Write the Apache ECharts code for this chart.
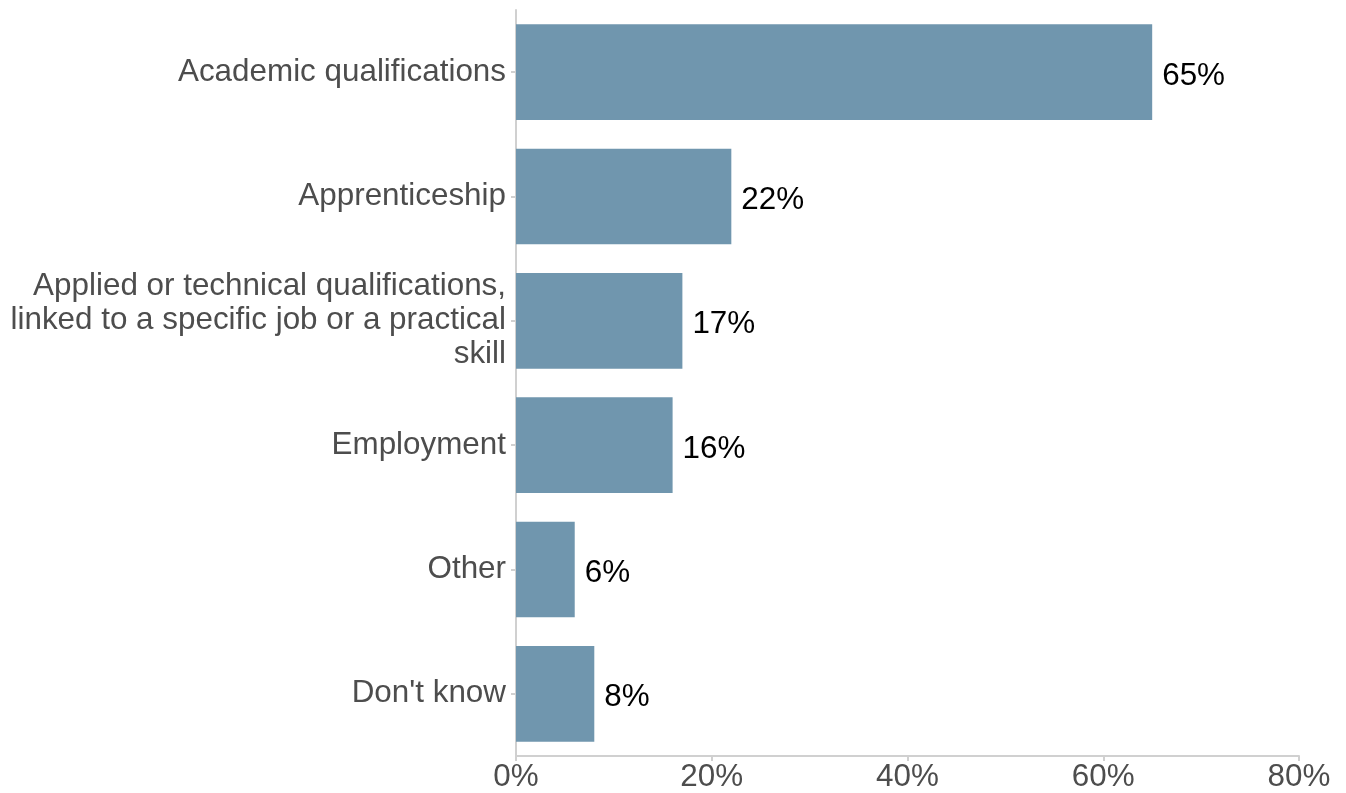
<!DOCTYPE html>
<html>
<head>
<meta charset="utf-8">
<script src="https://cdn.jsdelivr.net/npm/echarts@6/dist/echarts.min.js"></script>
<style>
  html, body { margin: 0; padding: 0; background: #ffffff; }
  #chart { width: 1346px; height: 793px; }
</style>
</head>
<body>
<div id="chart"></div>
<script>
// Routes named, listed top to bottom
const categories = [
  "Academic qualifications",
  "Apprenticeship",
  "Applied or technical qualifications,\nlinked to a specific job or a practical\nskill",
  "Employment",
  "Other",
  "Don't know"
];
// Share of respondents (%)
const values = [65, 22, 17, 16, 6, 8];
// Value axis ticks (%)
const xTicks = [0, 20, 40, 60, 80];

const chart = echarts.init(document.getElementById('chart'), null, { renderer: 'canvas' });

const font = 'Liberation Sans, Arial, Helvetica, sans-serif';
const textSize = 31.4;

chart.setOption({
  backgroundColor: '#ffffff',
  animation: false,
  grid: { left: 516, right: 47, top: 10, bottom: 37, containLabel: false },
  xAxis: {
    type: 'value',
    min: xTicks[0],
    max: xTicks[xTicks.length - 1],
    interval: xTicks[1] - xTicks[0],
    axisLine: { show: true, lineStyle: { color: '#d0d0d0', width: 2 } },
    axisTick: { show: true, length: 5, lineStyle: { color: '#d0d0d0', width: 2 } },
    splitLine: { show: false },
    axisLabel: {
      formatter: v => v + '%',
      color: '#4d4d4d',
      fontSize: textSize,
      fontFamily: font,
      margin: 6
    }
  },
  yAxis: {
    type: 'category',
    data: categories.slice().reverse(),
    axisLine: { show: true, lineStyle: { color: '#d0d0d0', width: 2 } },
    axisTick: { show: true, length: 5, alignWithLabel: true, lineStyle: { color: '#d0d0d0', width: 2 } },
    axisLabel: {
      color: '#4d4d4d',
      fontSize: textSize,
      fontFamily: font,
      lineHeight: 34,
      align: 'right',
      margin: 10,
      padding: [7, 0, 0, 0]
    }
  },
  series: [{
    type: 'bar',
    data: values.slice().reverse(),
    barCategoryGap: '23%',
    itemStyle: { color: '#7096AE' },
    label: {
      show: true,
      position: 'right',
      distance: 10,
      offset: [0, 4],
      formatter: p => p.value + '%',
      color: '#000000',
      fontSize: textSize,
      fontFamily: font
    }
  }]
});
</script>
</body>
</html>
